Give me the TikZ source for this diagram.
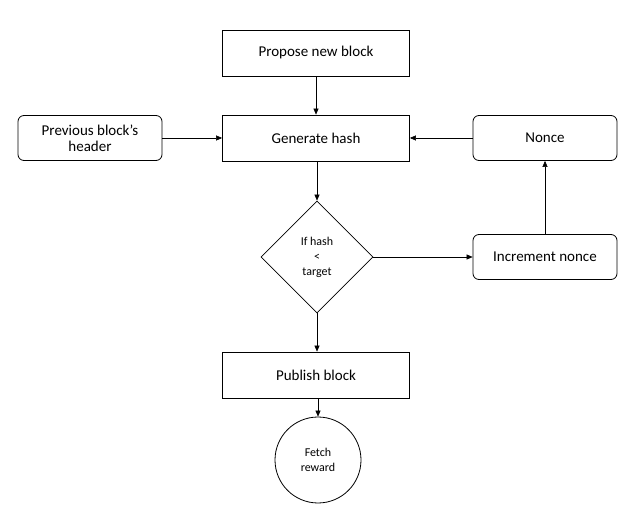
\documentclass[tikz,border=0pt]{standalone}
\usepackage{fontspec}
\setmainfont{Carlito}
\usetikzlibrary{shapes.geometric,arrows.meta}
\begin{document}
\begin{tikzpicture}[x=1pt,y=-1pt,
  box/.style={draw,line width=0.8pt,minimum width=187pt,minimum height=46pt,font=\fontsize{15}{17}\selectfont},
  rbox/.style={draw,line width=0.8pt,rounded corners=6pt,minimum width=144pt,minimum height=45pt,align=center,font=\fontsize{15}{17}\selectfont},
  arr/.style={-{Triangle[length=6pt,width=5pt]},line width=0.5pt}]
\useasboundingbox (0,0) rectangle (641,532);
\node[box] (p) at (316,53) {Propose new block};
\node[box] (g) at (316,138) {Generate hash};
\node[rbox] (h) at (90,138) {Previous block’s\\[-1pt]header};
\node[rbox] (n) at (545,138) {Nonce};
\node[draw,line width=0.8pt,diamond,minimum width=112pt,minimum height=112pt,inner sep=0pt,align=center,font=\fontsize{12}{15}\selectfont] (d) at (317,257) {If hash\\<\\target};
\node[rbox] (i) at (545,257) {Increment nonce};
\node[box] (b) at (316,375) {Publish block};
\node[draw,line width=0.8pt,circle,minimum size=86pt,align=center,font=\fontsize{12}{15}\selectfont] (f) at (318,460) {Fetch\\reward};
\draw[arr] (p) -- (g);
\draw[arr] (h) -- (g);
\draw[arr] (n) -- (g);
\draw[arr] (g.south -| d.north) -- (d.north);
\draw[arr] (d) -- (i);
\draw[arr] (i) -- (n);
\draw[arr] (d.south) -- (d.south |- b.north);
\draw[arr] (b.south -| f.north) -- (f.north);
\end{tikzpicture}
\end{document}
